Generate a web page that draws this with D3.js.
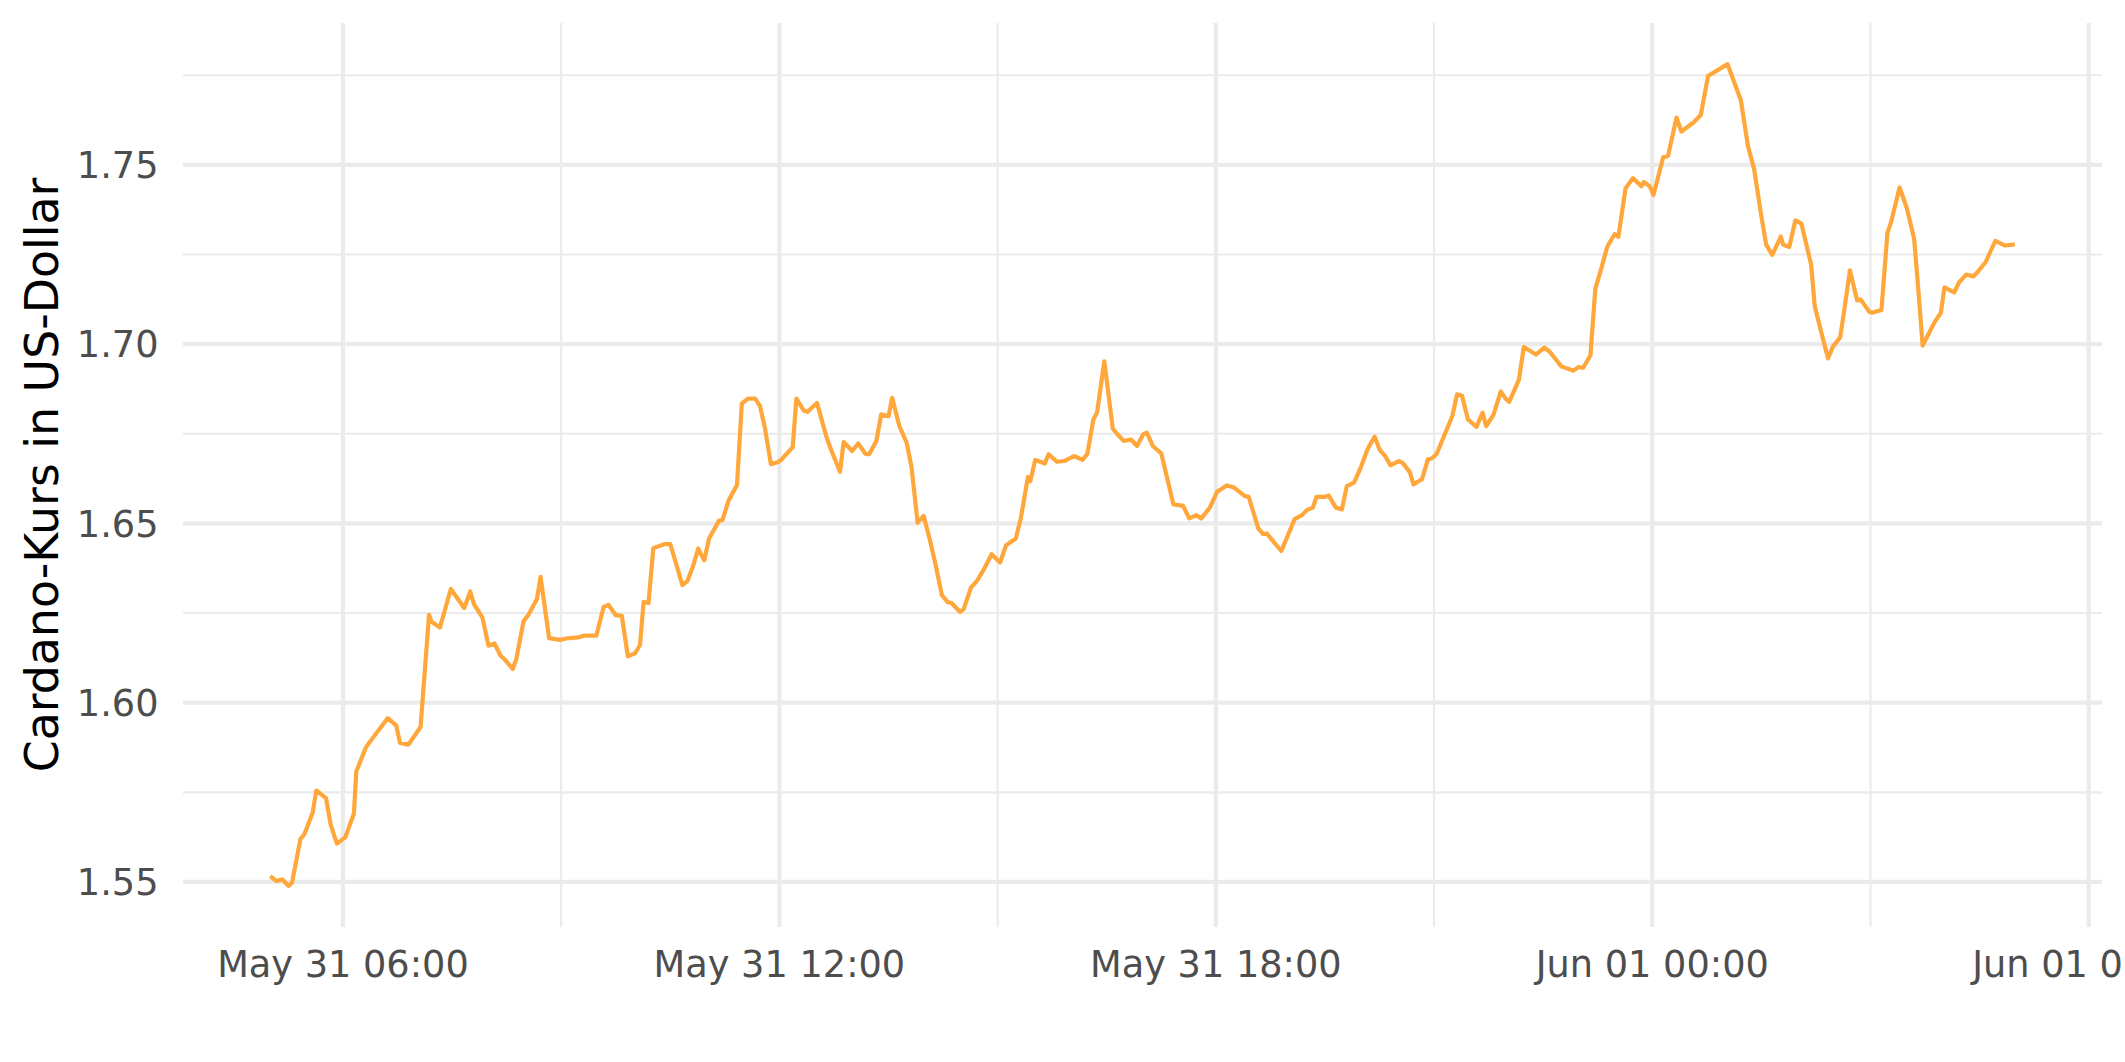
<!DOCTYPE html>
<html>
<head>
<meta charset="utf-8">
<script src="https://cdn.jsdelivr.net/npm/d3@7"></script>
<style>
  html, body { margin: 0; padding: 0; background: #ffffff; }
  svg { display: block; }
</style>
</head>
<body>
<svg id="chart" width="2125" height="1062"></svg>
<script>
// ---- data ----
const startTime = "2021-05-31T05:00:00";
// minutes after startTime
const minutes = [0,5,10,15,18,25,28,35,38,46,50,55,62,69,71,79,82,97,104,107,114,124,131,133,140,149,160,165,168,175,180,185,190,193,200,203,209,213,220,223,230,239,244,254,259,269,275,279,285,290,295,301,305,308,312,316,325,330,340,344,349,353,
358,362,370,373,378,385,389,394,400,404,408,413,419,422,431,434,440,443,451,459,463,470,473,480,485,491,494,500,504,510,513,519,525,529,534,539,544,549,554,559,562,569,572,578,583,589,595,602,607,615,619,625,627,631,639,642,649,655,663,670,674,679,682,688,695,699,704,710,715,720,723,728,735,745,753,758,764,768,775,781,789,795,804,807,815,819,822,828,834,845,851,855,860,863,870,873,879,884,888,894,900,905,911,915,920,924,931,934,940,943,950,955,958,962,969,975,979,983,988,995,1000,1003,1009,1015,1019,1022,1030,1034,1044,1051,1055,1061,1065,1075,1079,1083,1089,1093,1098,1103,1109,1112,1118,1124,1131,1133,1138,1141,1149,1153,1160,1164,1174,1180,1186,1202,1213,1219,1224,1230,1234,1239,1246,1248,1253,1258,1263,1271,1274,1279,1285,1289,1295,1299,1303,1309,1312,1319,1322,1329,1334,1337,1344,1350,1356,1360,1363,1369,1373,1378,1381,1389,1393,1399,1405,1410,1415,1419,1423,1431,1439];
const prices = [1.5516,1.5503,1.5507,1.5489,1.5498,1.5621,1.5632,1.5693,1.5755,1.5734,1.5658,1.5607,1.5625,1.5690,1.5808,1.5876,1.5890,1.5957,1.5936,1.5888,1.5883,1.5932,1.6245,1.6226,1.6210,1.6317,1.6264,1.6310,1.6275,1.6238,1.6159,1.6165,1.6131,1.6122,1.6094,1.6122,1.6228,1.6245,1.6289,1.6351,1.6180,1.6175,1.6179,1.6182,1.6187,1.6187,1.6267,1.6273,1.6244,1.6242,1.6129,1.6138,1.6161,1.6281,1.6278,1.6431,1.6442,1.6442,1.6328,1.6339,1.6383,1.6430,
1.6397,1.6458,1.6507,1.6509,1.6563,1.6607,1.6834,1.6848,1.6848,1.6827,1.6767,1.6665,1.6671,1.6679,1.6713,1.6848,1.6815,1.6811,1.6836,1.6739,1.6702,1.6644,1.6727,1.6702,1.6723,1.6694,1.6693,1.6730,1.6804,1.6799,1.6850,1.6771,1.6725,1.6656,1.6502,1.6521,1.6456,1.6382,1.6300,1.6280,1.6278,1.6253,1.6261,1.6321,1.6340,1.6374,1.6414,1.6391,1.6439,1.6458,1.6512,1.6630,1.6618,1.6677,1.6667,1.6693,1.6672,1.6674,1.6688,1.6677,1.6694,1.6790,1.6809,1.6952,1.6764,1.6748,1.6730,1.6734,1.6716,1.6748,1.6753,1.6716,1.6695,1.6553,1.6549,1.6514,1.6523,1.6514,1.6544,1.6588,1.6606,1.6600,1.6576,1.6575,1.6486,1.6470,1.6472,1.6447,1.6423,1.6512,1.6523,1.6537,1.6544,1.6574,1.6574,1.6578,1.6544,1.6539,1.6604,1.6614,1.6660,1.6706,1.6742,1.6706,1.6686,1.6662,1.6674,1.6669,1.6643,1.6609,1.6623,1.6679,1.6681,1.6693,1.6750,1.6799,1.6860,1.6856,1.6790,1.6769,1.6809,1.6771,1.6803,1.6868,1.6848,1.6839,1.6901,1.6992,1.6971,1.6990,1.6980,1.6955,1.6938,1.6926,1.6936,1.6934,1.6969,1.7154,1.7212,1.7273,1.7307,1.7299,1.7435,1.7463,1.7440,1.7452,1.7440,1.7416,1.7521,1.7525,1.7632,1.7593,1.7618,1.7639,1.7748,1.7781,1.7681,1.7551,1.7488,1.7356,1.7277,1.7249,1.7300,1.7277,1.7271,1.7345,1.7336,1.7222,1.7106,1.7038,1.6960,1.6993,1.7019,1.7110,1.7206,1.7122,1.7124,1.7090,1.7088,1.7095,1.7311,1.7341,1.7437,1.7379,1.7293,1.7129,1.6996,1.7036,1.7062,1.7087,1.7158,1.7144,1.7172,1.7194,1.7189,1.7208,1.7229,1.7259,1.7288,1.7275,1.7278];

const yMajorTicks = [1.55, 1.60, 1.65, 1.70, 1.75];
const yMinorTicks = [1.575, 1.625, 1.675, 1.725, 1.775];
const xMajorTicks = ["2021-05-31T06:00:00","2021-05-31T12:00:00","2021-05-31T18:00:00","2021-06-01T00:00:00","2021-06-01T06:00:00"];
const xMinorTicks = ["2021-05-31T09:00:00","2021-05-31T15:00:00","2021-05-31T21:00:00","2021-06-01T03:00:00"];
const yTitle = "Cardano-Kurs in US-Dollar";

// ---- build ----
const W = 2125, H = 1062;
const margin = {left: 183, right: 23, top: 23, bottom: 135};
const iw = W - margin.left - margin.right;
const ih = H - margin.top - margin.bottom;

const parse = s => new Date(s);
const t0 = parse(startTime).getTime();
const n = Math.min(minutes.length, prices.length);
const data = d3.range(n).map(i => ({t: new Date(t0 + minutes[i] * 60000), v: prices[i]}));

const tExt = d3.extent(data, d => d.t.getTime());
const tPad = (tExt[1] - tExt[0]) * 0.05;
const vExt = d3.extent(data, d => d.v);
const vPad = (vExt[1] - vExt[0]) * 0.05;

const x = d3.scaleTime()
  .domain([new Date(tExt[0] - tPad), new Date(tExt[1] + tPad)])
  .range([margin.left, margin.left + iw]);
const y = d3.scaleLinear()
  .domain([vExt[0] - vPad, vExt[1] + vPad])
  .range([margin.top + ih, margin.top]);

const svg = d3.select("#chart");
svg.append("rect").attr("width", W).attr("height", H).attr("fill", "#ffffff");

const grid = svg.append("g");
const GRID = "#EBEBEB";
// minor
grid.selectAll("line.ymin").data(yMinorTicks).join("line")
  .attr("x1", margin.left).attr("x2", margin.left + iw)
  .attr("y1", d => y(d)).attr("y2", d => y(d))
  .attr("stroke", GRID).attr("stroke-width", 2.1);
grid.selectAll("line.xmin").data(xMinorTicks.map(parse)).join("line")
  .attr("y1", margin.top).attr("y2", margin.top + ih)
  .attr("x1", d => x(d)).attr("x2", d => x(d))
  .attr("stroke", GRID).attr("stroke-width", 2.1);
// major
grid.selectAll("line.ymaj").data(yMajorTicks).join("line")
  .attr("x1", margin.left).attr("x2", margin.left + iw)
  .attr("y1", d => y(d)).attr("y2", d => y(d))
  .attr("stroke", GRID).attr("stroke-width", 4.2);
grid.selectAll("line.xmaj").data(xMajorTicks.map(parse)).join("line")
  .attr("y1", margin.top).attr("y2", margin.top + ih)
  .attr("x1", d => x(d)).attr("x2", d => x(d))
  .attr("stroke", GRID).attr("stroke-width", 4.2);

// line
const line = d3.line().x(d => x(d.t)).y(d => y(d.v));
svg.append("path").datum(data)
  .attr("d", line)
  .attr("fill", "none")
  .attr("stroke", "#FFA73A")
  .attr("stroke-width", 4.2)
  .attr("stroke-linejoin", "round")
  .attr("stroke-linecap", "butt");

// axes text
const FONT = "DejaVu Sans, Verdana, sans-serif";
const yFmt = d3.format(".2f");
svg.append("g").selectAll("text").data(yMajorTicks).join("text")
  .attr("x", 158.5).attr("y", d => y(d)).attr("dy", "0.36em")
  .attr("text-anchor", "end")
  .attr("font-family", FONT).attr("font-size", 36.7)
  .attr("fill", "#4D4D4D")
  .text(d => yFmt(d));

const xFmt = d3.timeFormat("%b %d %H:%M");
svg.append("g").selectAll("text").data(xMajorTicks.map(parse)).join("text")
  .attr("x", d => x(d)).attr("y", 977)
  .attr("text-anchor", "middle")
  .attr("font-family", FONT).attr("font-size", 36.7)
  .attr("fill", "#4D4D4D")
  .text(d => xFmt(d));

svg.append("text")
  .attr("transform", `translate(58, ${margin.top + ih / 2}) rotate(-90)`)
  .attr("text-anchor", "middle")
  .attr("font-family", FONT).attr("font-size", 45.8)
  .attr("fill", "#000000")
  .text(yTitle);
</script>
</body>
</html>
